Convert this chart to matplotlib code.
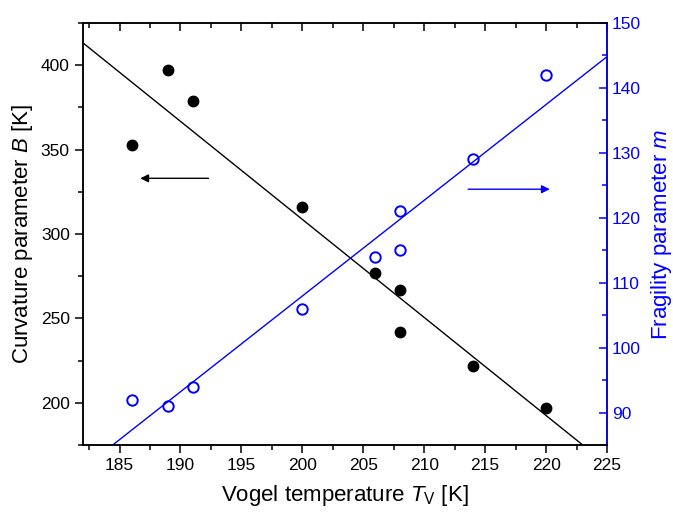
import numpy as np
import matplotlib
matplotlib.use("Agg")
import matplotlib.pyplot as plt
from matplotlib.ticker import MultipleLocator

plt.rcParams['font.family'] = ['Liberation Sans', 'DejaVu Sans']
plt.rcParams['mathtext.fontset'] = 'custom'
plt.rcParams['mathtext.rm'] = 'Liberation Sans'
plt.rcParams['mathtext.it'] = 'Liberation Sans:italic'

# Vogel temperature and the two derived parameters
t_vogel = [186, 189, 191, 200, 206, 208, 208, 214, 220]
curv_b = [353, 397, 379, 316, 277, 267, 242, 222, 197]
frag_m = [92, 91, 94, 106, 114, 121, 115, 129, 142]

fig = plt.figure(figsize=(6.73, 5.12), dpi=100)
ax = fig.add_axes([0.1233, 0.1309, 0.7787, 0.8241])
ax2 = ax.twinx()

xfit = np.array([182, 225])
kb = np.polyfit(t_vogel, curv_b, 1)
km = np.polyfit(t_vogel, frag_m, 1)

ax.plot(xfit, np.polyval(kb, xfit), color='black', lw=1.0)
ax.plot(t_vogel, curv_b, 'o', color='black', ms=7.5)
ax2.plot(xfit, np.polyval(km, xfit), color='blue', lw=1.0)
ax2.plot(t_vogel, frag_m, 'o', mfc='none', mec='blue', mew=1.4, ms=7.5)

ax.set_xlim(182, 225)
ax.set_ylim(175, 425)
ax2.set_ylim(85, 150)

ax.xaxis.set_major_locator(MultipleLocator(5))
ax.xaxis.set_minor_locator(MultipleLocator(2.5))
ax.yaxis.set_major_locator(MultipleLocator(50))
ax.yaxis.set_minor_locator(MultipleLocator(25))
ax2.yaxis.set_major_locator(MultipleLocator(10))
ax2.yaxis.set_minor_locator(MultipleLocator(5))

ax.tick_params(axis='x', which='both', direction='out', top=False, labelsize=12.5)
ax.tick_params(axis='x', which='major', length=6, width=1.1)
ax.tick_params(axis='x', which='minor', length=3.5, width=1.1)
ax.tick_params(axis='y', which='both', direction='out', labelsize=12.5, width=1.1)
ax.tick_params(axis='y', which='major', length=6)
ax.tick_params(axis='y', which='minor', length=3.5)
ax2.tick_params(axis='y', which='both', direction='in', colors='blue', labelsize=12.5, width=1.1)
ax2.tick_params(axis='y', which='major', length=6)
ax2.tick_params(axis='y', which='minor', length=3.5)

# top axis ticks point inward
sec = ax.secondary_xaxis('top')
sec.xaxis.set_major_locator(MultipleLocator(5))
sec.xaxis.set_minor_locator(MultipleLocator(2.5))
sec.tick_params(which='both', direction='in', labeltop=False, width=1.1)
sec.tick_params(which='major', length=6)
sec.tick_params(which='minor', length=3.5)
sec.spines['top'].set_visible(False)

for s in ax.spines.values():
    s.set_linewidth(1.1)
for s in ax2.spines.values():
    s.set_linewidth(1.1)
ax2.spines['right'].set_color('blue')

ax.set_xlabel(r'Vogel temperature $T_\mathrm{V}$ [K]', fontsize=16, labelpad=7)
ax.set_ylabel(r'Curvature parameter $B$ [K]', fontsize=16, labelpad=4)
ax2.set_ylabel(r'Fragility parameter $m$', fontsize=16, color='blue', labelpad=6)

ax.annotate('', xy=(186.7, 333), xytext=(192.3, 333),
            arrowprops=dict(arrowstyle='-|>', color='black', lw=1.0,
                            mutation_scale=12, shrinkA=0, shrinkB=0))
ax2.annotate('', xy=(220.3, 124.4), xytext=(213.6, 124.4),
             arrowprops=dict(arrowstyle='-|>', color='blue', lw=1.0,
                             mutation_scale=12, shrinkA=0, shrinkB=0))

fig.savefig('out.png', dpi=100)
